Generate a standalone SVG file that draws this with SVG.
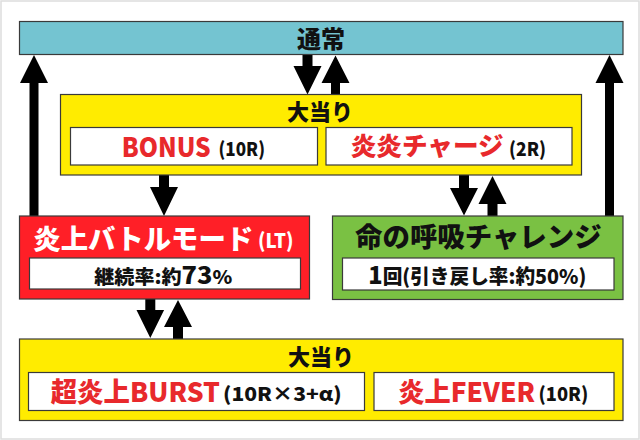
<svg xmlns="http://www.w3.org/2000/svg" width="640" height="440" viewBox="0 0 640 440">
<style>
.box{stroke:#3a3a3a;stroke-width:1.2}
.teal{fill:#74C4D1}
.yel{fill:#FFEC00}
.red{fill:#FF1F27}
.grn{fill:#7AC143}
.wht{fill:#ffffff}
text{font-family:"Noto Sans CJK JP","Noto Sans",sans-serif;font-weight:900}
.k{fill:#111111}
.r{fill:#E8292C}
.w{fill:#ffffff}
.arr{fill:#000000}
</style>
<rect x="1" y="1" width="638" height="438" fill="#ffffff" stroke="#dddddd" stroke-width="1.5"/>

<g id="connectors">
  <polygon class="arr" points="29.5,216 29.5,83 20,83 34,55 48,83 38.5,83 38.5,216"/>
  <polygon class="arr" points="605,216 605,83 595.5,83 609.5,55 623.5,83 614,83 614,216"/>
  <polygon class="arr" points="302.5,54 302.5,66 293.5,66 307.5,94.5 321.5,66 312.5,66 312.5,54"/>
  <polygon class="arr" points="331,95 331,83 321.5,83 335.5,55.5 349.5,83 340,83 340,95"/>
  <polygon class="arr" points="159,175 159,187 150,187 164,216 178,187 169,187 169,175"/>
  <polygon class="arr" points="459,175 459,188 450,188 464,215.5 478,188 469,188 469,175"/>
  <polygon class="arr" points="487.5,216 487.5,204 478.5,204 492.5,176 506.5,204 497.5,204 497.5,216"/>
  <polygon class="arr" points="145.3,299 145.3,310 136.5,310 150.3,338 164.1,310 155.3,310 155.3,299"/>
  <polygon class="arr" points="173,339 173,327 164,327 178,300 192,327 183,327 183,339"/>
</g>

<g id="normal">
  <rect class="box teal" x="19.5" y="21.5" width="603.5" height="33"/>
  <text class="k" x="321" y="48" font-size="24" text-anchor="middle">通常</text>
</g>

<g id="jackpot-top">
  <rect class="box yel" x="60.5" y="94.5" width="521" height="80.5"/>
  <text class="k" x="320" y="119.5" font-size="22" text-anchor="middle">大当り</text>
</g>

<g id="bonus">
  <rect class="box wht" x="70.5" y="127.5" width="247" height="37.5"/>
  <text class="r" x="121.7" y="157" font-size="26.5" textLength="89" lengthAdjust="spacingAndGlyphs">BONUS</text>
  <text class="k" x="218.5" y="155.5" font-size="19" textLength="46.5" lengthAdjust="spacingAndGlyphs">(10R)</text>
</g>

<g id="enen-charge">
  <rect class="box wht" x="326" y="127.5" width="246" height="37.5"/>
  <text class="r" x="350.7" y="155" font-size="25.5" textLength="153" lengthAdjust="spacingAndGlyphs">炎炎チャージ</text>
  <text class="k" x="509" y="155.5" font-size="19" textLength="37" lengthAdjust="spacingAndGlyphs">(2R)</text>
</g>

<g id="battle-mode">
  <rect class="box red" x="19.5" y="216" width="290" height="83"/>
  <text class="w" x="33.3" y="249" font-size="27.5" textLength="220" lengthAdjust="spacingAndGlyphs">炎上バトルモード</text>
  <text class="w" x="258" y="248" font-size="20" textLength="35.5" lengthAdjust="spacingAndGlyphs">(LT)</text>
  <rect class="box wht" x="29.5" y="258" width="271" height="31"/>
  <text class="k" x="94.3" y="283.5" font-size="19" textLength="138" lengthAdjust="spacingAndGlyphs">継続率:約<tspan font-size="24">73</tspan>%</text>
</g>

<g id="challenge">
  <rect class="box grn" x="332.5" y="216" width="290.5" height="83.5"/>
  <text class="k" x="355" y="247" font-size="27.4" textLength="246.7" lengthAdjust="spacingAndGlyphs">命の呼吸チャレンジ</text>
  <rect class="box wht" x="342.5" y="258" width="271.5" height="32"/>
  <text class="k" x="368.3" y="283.5" font-size="20" textLength="218" lengthAdjust="spacingAndGlyphs"><tspan font-size="24">1</tspan>回(引き戻し率:約50%)</text>
</g>

<g id="jackpot-bottom">
  <rect class="box yel" x="19.5" y="339" width="603.5" height="81.5"/>
  <text class="k" x="321" y="365" font-size="22" text-anchor="middle">大当り</text>
</g>

<g id="burst">
  <rect class="box wht" x="28.5" y="372.5" width="336" height="38"/>
  <text class="r" x="50.7" y="402" font-size="27" textLength="169.3" lengthAdjust="spacingAndGlyphs">超炎上BURST</text>
  <text class="k" x="223" y="400.5" font-size="19" textLength="118.7" lengthAdjust="spacingAndGlyphs">(10R×3+α)</text>
</g>

<g id="fever">
  <rect class="box wht" x="374" y="372.5" width="240" height="38"/>
  <text class="r" x="398.3" y="402" font-size="27" textLength="136.7" lengthAdjust="spacingAndGlyphs">炎上FEVER</text>
  <text class="k" x="538.5" y="400.5" font-size="19" textLength="49.8" lengthAdjust="spacingAndGlyphs">(10R)</text>
</g>
</svg>
